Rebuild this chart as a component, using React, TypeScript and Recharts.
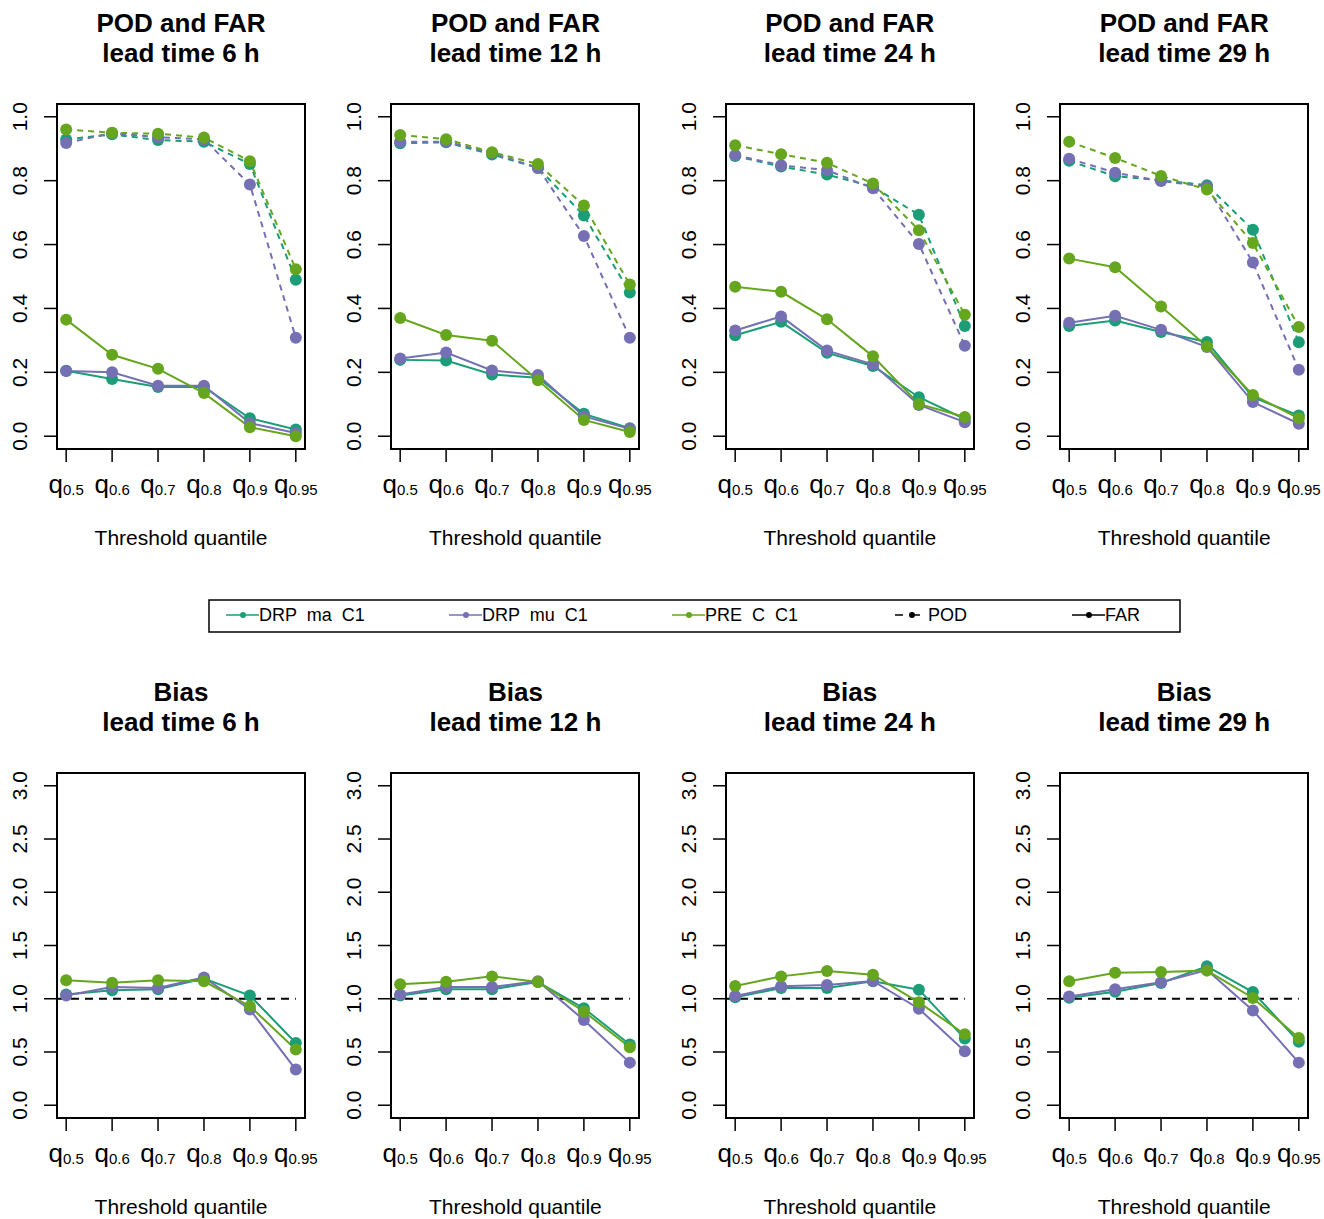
import React from 'react'
import { LineChart, Line, XAxis, YAxis, ReferenceArea, ReferenceLine } from 'recharts'

const QUANTILES = ['0.5', '0.6', '0.7', '0.8', '0.9', '0.95']
const LEAD_TIMES = [6, 12, 24, 29]

// one row per lead time (6, 12, 24, 29 h), one value per threshold quantile
const POD_DRP_MA = [
  [0.929, 0.945, 0.927, 0.922, 0.852, 0.49],
  [0.917, 0.92, 0.882, 0.84, 0.691, 0.45],
  [0.877, 0.844, 0.819, 0.781, 0.693, 0.345],
  [0.862, 0.814, 0.801, 0.786, 0.646, 0.294],
]
const POD_DRP_MU = [
  [0.918, 0.949, 0.936, 0.929, 0.788, 0.308],
  [0.922, 0.922, 0.887, 0.84, 0.627, 0.308],
  [0.88, 0.848, 0.833, 0.776, 0.602, 0.283],
  [0.869, 0.825, 0.799, 0.781, 0.544, 0.208],
]
const POD_PRE_C = [
  [0.96, 0.95, 0.947, 0.935, 0.861, 0.523],
  [0.943, 0.93, 0.889, 0.852, 0.722, 0.475],
  [0.911, 0.883, 0.856, 0.791, 0.645, 0.38],
  [0.922, 0.871, 0.815, 0.772, 0.605, 0.342],
]
const FAR_DRP_MA = [
  [0.205, 0.179, 0.154, 0.154, 0.056, 0.021],
  [0.239, 0.237, 0.193, 0.183, 0.07, 0.025],
  [0.316, 0.358, 0.261, 0.22, 0.122, 0.054],
  [0.345, 0.362, 0.326, 0.295, 0.122, 0.065],
]
const FAR_DRP_MU = [
  [0.204, 0.2, 0.158, 0.158, 0.041, 0.01],
  [0.243, 0.262, 0.206, 0.192, 0.062, 0.023],
  [0.331, 0.375, 0.268, 0.225, 0.098, 0.044],
  [0.355, 0.377, 0.333, 0.279, 0.107, 0.039],
]
const FAR_PRE_C = [
  [0.365, 0.255, 0.211, 0.135, 0.028, 0.0],
  [0.37, 0.317, 0.299, 0.175, 0.051, 0.013],
  [0.468, 0.452, 0.366, 0.25, 0.101, 0.06],
  [0.556, 0.529, 0.406, 0.281, 0.129, 0.056],
]
const BIAS_DRP_MA = [
  [1.04, 1.08, 1.09, 1.19, 1.03, 0.585],
  [1.03, 1.09, 1.09, 1.157, 0.91, 0.57],
  [1.013, 1.1, 1.1, 1.165, 1.085, 0.626],
  [1.01, 1.066, 1.148, 1.305, 1.063, 0.595],
]
const BIAS_DRP_MU = [
  [1.03, 1.11, 1.1, 1.2, 0.9, 0.335],
  [1.04, 1.11, 1.11, 1.165, 0.8, 0.4],
  [1.025, 1.117, 1.13, 1.167, 0.906, 0.507],
  [1.02, 1.09, 1.155, 1.27, 0.89, 0.4],
]
const BIAS_PRE_C = [
  [1.173, 1.15, 1.173, 1.164, 0.93, 0.523],
  [1.135, 1.16, 1.21, 1.157, 0.88, 0.545],
  [1.12, 1.21, 1.26, 1.226, 0.966, 0.667],
  [1.165, 1.243, 1.252, 1.264, 1.007, 0.632],
]

const SCORE_TICKS = [0, 0.2, 0.4, 0.6, 0.8, 1.0]
const BIAS_TICKS = [0, 0.5, 1.0, 1.5, 2.0, 2.5, 3.0]
const X_TICKS = [1, 2, 3, 4, 5, 6]

const TEAL = '#1B9E77'
const PURPLE = '#7570B3'
const GREEN = '#66A61E'
const FONT = '"Liberation Sans", Arial, Helvetica, sans-serif'

const COL_STEP = 334.4
const ROW_STEP = 669

const XTick = (props: any) => {
  const { x, y, payload } = props
  const label = QUANTILES[payload.value - 1]
  return (
    <text x={x} y={y} dy={29} textAnchor="middle" fontFamily={FONT} fill="#000">
      <tspan fontSize={26}>q</tspan>
      <tspan fontSize={15} dy={2}>{label}</tspan>
    </text>
  )
}

const YTick = (props: any) => {
  const { x, y, payload } = props
  return (
    <text
      transform={`translate(${x - 15},${y}) rotate(-90)`}
      textAnchor="middle"
      fontFamily={FONT}
      fontSize={21}
      fill="#000"
    >
      {Number(payload.value).toFixed(1)}
    </text>
  )
}

const dot = (c: string) => ({ r: 6, fill: c, stroke: c, strokeWidth: 0 })

function Panel({ li, bias }: { li: number; bias: boolean }) {
  const rows = QUANTILES.map((q, i) => ({
    x: i + 1,
    podMa: POD_DRP_MA[li][i],
    podMu: POD_DRP_MU[li][i],
    podPre: POD_PRE_C[li][i],
    farMa: FAR_DRP_MA[li][i],
    farMu: FAR_DRP_MU[li][i],
    farPre: FAR_PRE_C[li][i],
    biasMa: BIAS_DRP_MA[li][i],
    biasMu: BIAS_DRP_MU[li][i],
    biasPre: BIAS_PRE_C[li][i],
  }))
  const yDomain = bias ? [-0.12, 3.12] : [-0.04, 1.04]

  return (
    <div style={{ position: 'absolute', left: li * COL_STEP, top: bias ? ROW_STEP : 0 }}>
      <LineChart width={334} height={560} data={rows} margin={{ top: 104, right: 29, bottom: 51, left: 7 }}>
        <XAxis
          dataKey="x"
          type="number"
          domain={[0.8, 6.2]}
          ticks={X_TICKS}
          interval={0}
          allowDataOverflow
          axisLine={false}
          tickSize={13}
          tickLine={{ stroke: '#000', strokeWidth: 1.5 }}
          tick={<XTick />}
          height={60}
        />
        <YAxis
          type="number"
          domain={yDomain}
          ticks={bias ? BIAS_TICKS : SCORE_TICKS}
          interval={0}
          allowDataOverflow
          axisLine={false}
          tickSize={13}
          tickLine={{ stroke: '#000', strokeWidth: 1.5 }}
          tick={<YTick />}
          width={50}
        />
        <ReferenceArea
          x1={0.8}
          x2={6.2}
          y1={yDomain[0]}
          y2={yDomain[1]}
          fill="none"
          stroke="#000"
          strokeWidth={2}
        />
        {bias ? (
          <>
            <ReferenceLine
              segment={[{ x: 0.8, y: 1 }, { x: 6, y: 1 }]}
              stroke="#000"
              strokeWidth={2}
              strokeDasharray="8 6"
            />
            <Line dataKey="biasMa" stroke={TEAL} strokeWidth={2} dot={dot(TEAL)} isAnimationActive={false} />
            <Line dataKey="biasMu" stroke={PURPLE} strokeWidth={2} dot={dot(PURPLE)} isAnimationActive={false} />
            <Line dataKey="biasPre" stroke={GREEN} strokeWidth={2} dot={dot(GREEN)} isAnimationActive={false} />
          </>
        ) : (
          <>
            <Line dataKey="podMa" stroke={TEAL} strokeWidth={2} strokeDasharray="6 5" dot={dot(TEAL)} isAnimationActive={false} />
            <Line dataKey="farMa" stroke={TEAL} strokeWidth={2} dot={dot(TEAL)} isAnimationActive={false} />
            <Line dataKey="podMu" stroke={PURPLE} strokeWidth={2} strokeDasharray="6 5" dot={dot(PURPLE)} isAnimationActive={false} />
            <Line dataKey="farMu" stroke={PURPLE} strokeWidth={2} dot={dot(PURPLE)} isAnimationActive={false} />
            <Line dataKey="podPre" stroke={GREEN} strokeWidth={2} strokeDasharray="6 5" dot={dot(GREEN)} isAnimationActive={false} />
            <Line dataKey="farPre" stroke={GREEN} strokeWidth={2} dot={dot(GREEN)} isAnimationActive={false} />
          </>
        )}
      </LineChart>
    </div>
  )
}

const LEGEND_ITEMS = [
  { label: 'DRP  ma  C1', color: TEAL, dashed: false, x: 226 },
  { label: 'DRP  mu  C1', color: PURPLE, dashed: false, x: 449 },
  { label: 'PRE  C  C1', color: GREEN, dashed: false, x: 672 },
  { label: 'POD', color: '#000', dashed: true, x: 895 },
  { label: 'FAR', color: '#000', dashed: false, x: 1072 },
]

function Overlay() {
  return (
    <svg width={1324} height={1219} style={{ position: 'absolute', left: 0, top: 0, pointerEvents: 'none' }}>
      {LEAD_TIMES.map((lt, i) => {
        const cx = i * COL_STEP + 181
        return (
          <g key={lt} fontFamily={FONT} fill="#000">
            <text x={cx} y={32} textAnchor="middle" fontSize={26} fontWeight="bold">POD and FAR</text>
            <text x={cx} y={62} textAnchor="middle" fontSize={26} fontWeight="bold">{`lead time ${lt} h`}</text>
            <text x={cx} y={545} textAnchor="middle" fontSize={21}>Threshold quantile</text>
            <text x={cx} y={32 + ROW_STEP} textAnchor="middle" fontSize={26} fontWeight="bold">Bias</text>
            <text x={cx} y={62 + ROW_STEP} textAnchor="middle" fontSize={26} fontWeight="bold">{`lead time ${lt} h`}</text>
            <text x={cx} y={545 + ROW_STEP} textAnchor="middle" fontSize={21}>Threshold quantile</text>
          </g>
        )
      })}
      <rect x={209} y={600} width={971} height={32} fill="none" stroke="#000" strokeWidth={1.5} />
      {LEGEND_ITEMS.map((it) => (
        <g key={it.label}>
          <line
            x1={it.x}
            x2={it.x + 33}
            y1={615}
            y2={615}
            stroke={it.color}
            strokeWidth={1.5}
            strokeDasharray={it.dashed ? '8 9' : undefined}
          />
          <circle cx={it.x + 17} cy={615} r={3} fill={it.color} />
          <text x={it.x + 33} y={621} fontFamily={FONT} fontSize={18} fill="#000" style={{ whiteSpace: 'pre' }}>
            {it.label}
          </text>
        </g>
      ))}
    </svg>
  )
}

export default function App() {
  return (
    <div style={{ position: 'absolute', left: 0, top: 0, width: 1324, height: 1219, background: '#fff' }}>
      {LEAD_TIMES.map((lt, i) => (
        <Panel key={`s${lt}`} li={i} bias={false} />
      ))}
      {LEAD_TIMES.map((lt, i) => (
        <Panel key={`b${lt}`} li={i} bias={true} />
      ))}
      <Overlay />
    </div>
  )
}
